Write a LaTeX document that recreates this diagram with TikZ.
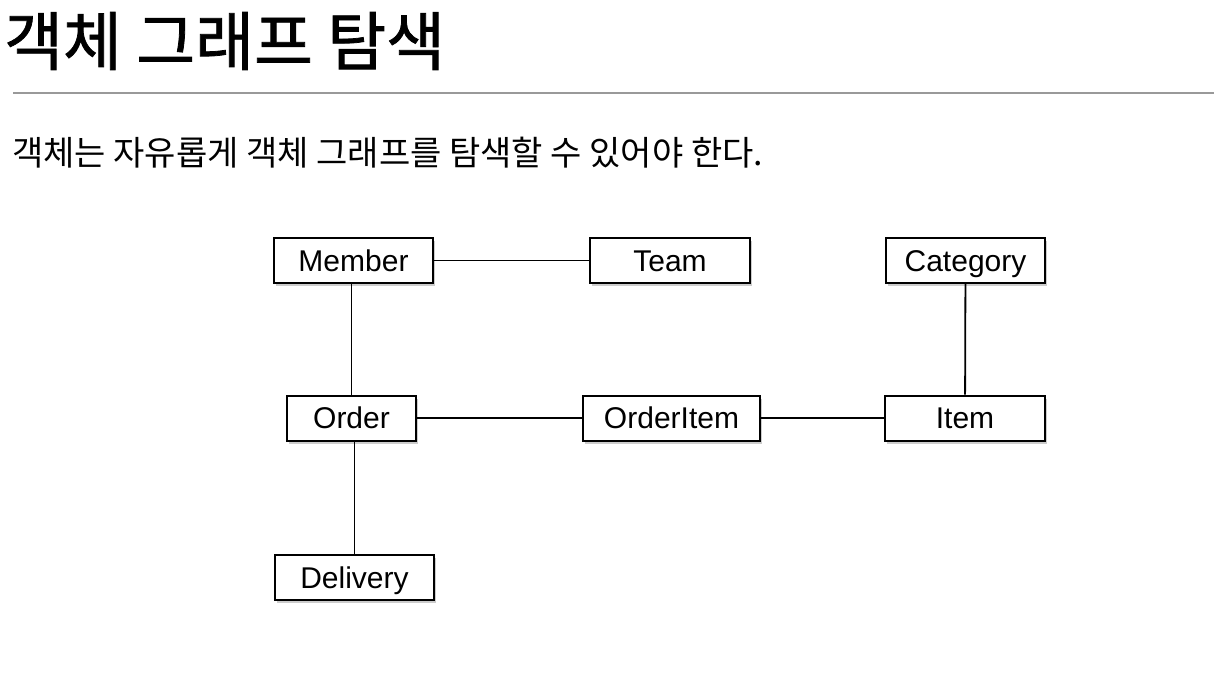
\documentclass[tikz,border=0pt]{standalone}
\usepackage{fontspec}
\setmainfont{Liberation Sans}
\newfontfamily\kofont{Noto Sans CJK KR}
\newfontfamily\kotitle[FakeBold=1.2]{Noto Sans CJK KR}
\usepackage{tikz}
\usetikzlibrary{shadows}
\definecolor{rulegray}{rgb}{0.6, 0.6, 0.6}
\tikzstyle{entity}=[draw,rectangle,line width=2pt,fill=white,minimum height=45pt,inner sep=0pt,text height=21.5pt,text depth=0pt,font=\fontsize{30}{34}\selectfont,drop shadow={shadow xshift=2pt,shadow yshift=-3pt,opacity=0.4}]
\tikzstyle{link}=[line width=1.8pt]

\begin{document}
\begin{tikzpicture}[x=1pt,y=-1pt]
\useasboundingbox (0,0) rectangle (1214,672);
\node[anchor=base west,inner sep=0pt,font=\kotitle\fontsize{64}{72}\selectfont] (title) at (4,65) {객체 그래프 탐색};
\coordinate (rl) at (13,93);
\coordinate (rr) at (1214,93);
\draw[rulegray, line width=1.5pt] (rl) -- (rr);
\node[anchor=base west,inner sep=0pt,font=\kofont\fontsize{34}{40}\selectfont] (sub) at (12,165) {객체는 자유롭게 객체 그래프를 탐색할 수 있어야 한다.};
\node[entity, minimum width=159pt] (mem) at (353.5,260.5) {Member};
\node[entity, minimum width=160pt] (team) at (670,260.5) {Team};
\node[entity, minimum width=159pt] (cat) at (965.5,260.5) {Category};
\node[entity, minimum width=129pt] (ord) at (351.5,418) {Order};
\node[entity, minimum width=177pt] (oi) at (671.5,418) {OrderItem};
\node[entity, minimum width=160pt] (item) at (965,418) {Item};
\node[entity, minimum width=159pt] (del) at (354.5,577.5) {Delivery};
\draw[link] (mem) -- (team);
\draw[link] (ord) -- (oi) -- (item);
\draw[link] (cat) -- (item);
\draw[link] (mem.south -| ord.north) -- (ord.north);
\draw[link] (ord.south -| del.north) -- (del.north);
%\draw[link] (mem) -- (ord);
\end{tikzpicture}
\end{document}
